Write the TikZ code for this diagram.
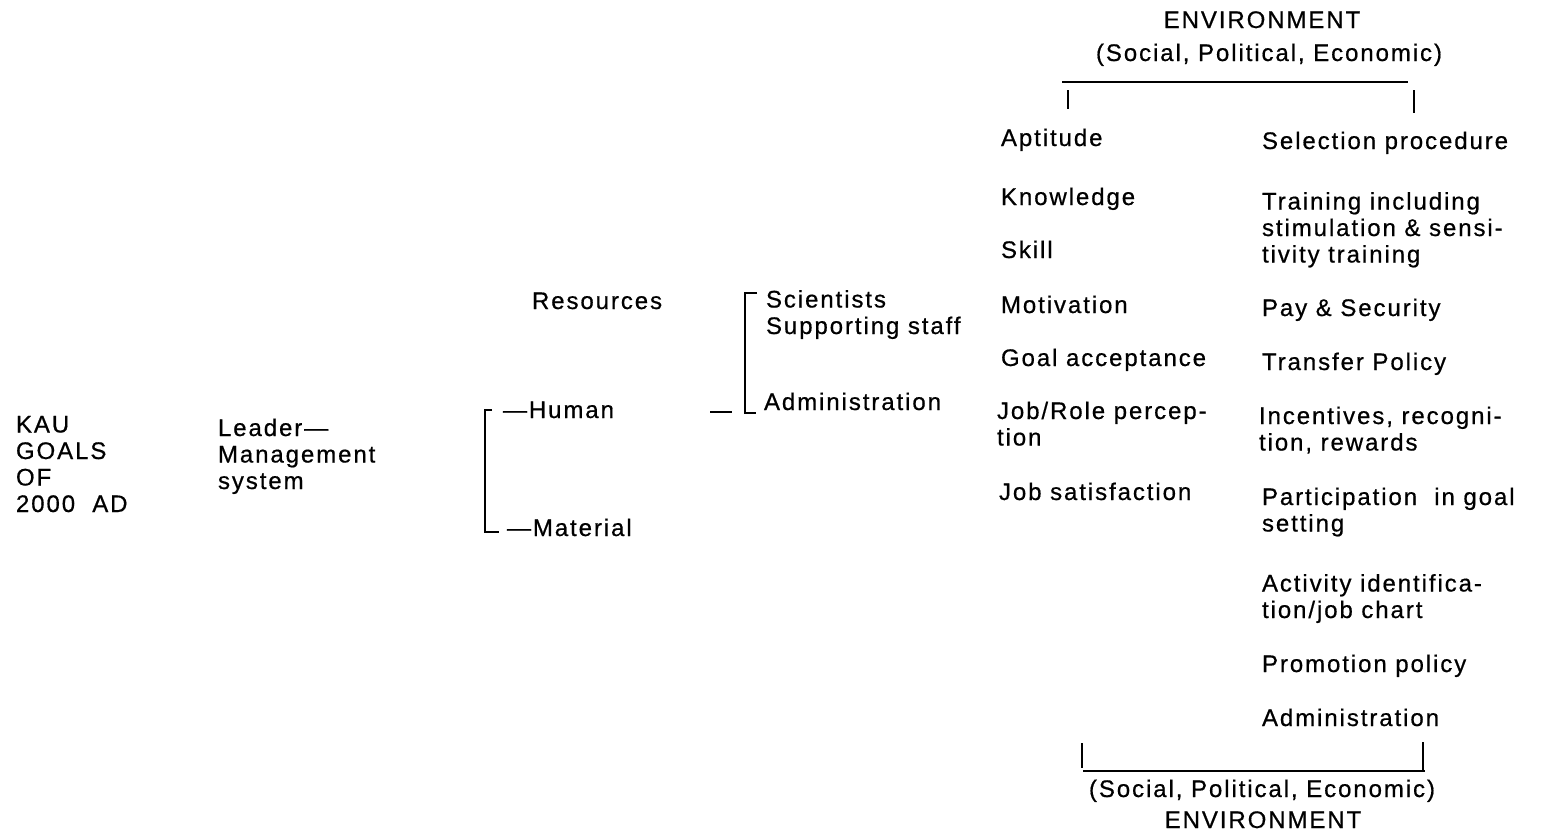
\documentclass[tikz,border=0pt]{standalone}
\usepackage{fontspec}
\setmainfont{Liberation Sans}[LetterSpace=8,FakeBold=0.6]
\newcommand\lblfont{\fontsize{24}{26.5}\selectfont}
\begin{document}
\begin{tikzpicture}[x=1pt,y=-1pt,
  lbl/.style={anchor=base west, inner sep=0pt, outer sep=0pt, font=\lblfont, align=left},
  ctr/.style={anchor=base, inner sep=0pt, outer sep=0pt, font=\lblfont},
  rule/.style={line width=1.8pt, line cap=butt}]
\useasboundingbox (0,0) rectangle (1541,835);
\fill[white] (0,0) rectangle (1541,835);
% left part (multi-line nodes are placed by their last baseline)
\node[lbl] (kau) at (16,512) {KAU\\GOALS\\OF\\2000~~AD};
\node[lbl] (lead) at (218,489) {Leader---\\Management\\system};
\node[lbl] (res) at (532,309) {Resources};
\node[lbl] (hum) at (503,418) {---Human};
\node[lbl] (mat) at (507,536) {---Material};
\node[lbl] (sci) at (766,334) {Scientists\\Supporting staff};
\node[lbl] (adm) at (764,410) {Administration};
% human/material bracket
\coordinate (hb1) at (492,410);
\coordinate (hb2) at (485,410);
\coordinate (hb3) at (485,532);
\coordinate (hb4) at (499,532);
\draw[rule] (hb1) -- (hb2) -- (hb3) -- (hb4);
% staff bracket
\coordinate (sb1) at (757,293);
\coordinate (sb2) at (745,293);
\coordinate (sb3) at (745,413);
\coordinate (sb4) at (756,413);
\draw[rule] (sb1) -- (sb2) -- (sb3) -- (sb4);
\coordinate (hd1) at (710,412);
\coordinate (hd2) at (732,412);
\draw[rule] (hd1) -- (hd2);
% environment top
\node[ctr] (envt) at (1262,28) {ENVIRONMENT};
\node[ctr] (spet) at (1269,61) {(Social, Political, Economic)};
\coordinate (tl1) at (1062,82);
\coordinate (tl2) at (1408,82);
\draw[rule] (tl1) -- (tl2);
\coordinate (tt1) at (1068,90);
\coordinate (tt2) at (1068,109);
\draw[rule] (tt1) -- (tt2);
\coordinate (tt3) at (1414,90);
\coordinate (tt4) at (1414,113);
\draw[rule] (tt3) -- (tt4);
% left column
\node[lbl] (apt) at (1001,146) {Aptitude};
\node[lbl] (kno) at (1001,205) {Knowledge};
\node[lbl] (ski) at (1001,258) {Skill};
\node[lbl] (mot) at (1001,313) {Motivation};
\node[lbl] (goa) at (1001,366) {Goal acceptance};
\node[lbl] (job) at (997,445.5) {Job/Role percep-\\tion};
\node[lbl] (sat) at (999,500) {Job satisfaction};
% right column
\node[lbl] (sel) at (1262,149) {Selection procedure};
\node[lbl] (tra) at (1262,262.5) {Training including\\stimulation \& sensi-\\tivity training};
\node[lbl] (pay) at (1262,316) {Pay \& Security};
\node[lbl] (tpo) at (1262,370) {Transfer Policy};
\node[lbl] (inc) at (1259,450.5) {Incentives, recogni-\\tion, rewards};
\node[lbl] (par) at (1262,531.5) {Participation~~in goal\\setting};
\node[lbl] (act) at (1262,618) {Activity identifica-\\tion/job chart};
\node[lbl] (pro) at (1262,672) {Promotion policy};
\node[lbl] (adr) at (1262,726) {Administration};
% environment bottom
\coordinate (bt1) at (1082,743);
\coordinate (bt2) at (1082,768);
\draw[rule] (bt1) -- (bt2);
\coordinate (bl1) at (1083,771);
\coordinate (bl2) at (1425,771);
\draw[rule] (bl1) -- (bl2);
\coordinate (bt3) at (1423,742);
\coordinate (bt4) at (1423,772);
\draw[rule] (bt3) -- (bt4);
\node[ctr] (speb) at (1262,797) {(Social, Political, Economic)};
\node[ctr] (envb) at (1263,828) {ENVIRONMENT};
\end{tikzpicture}
\end{document}
